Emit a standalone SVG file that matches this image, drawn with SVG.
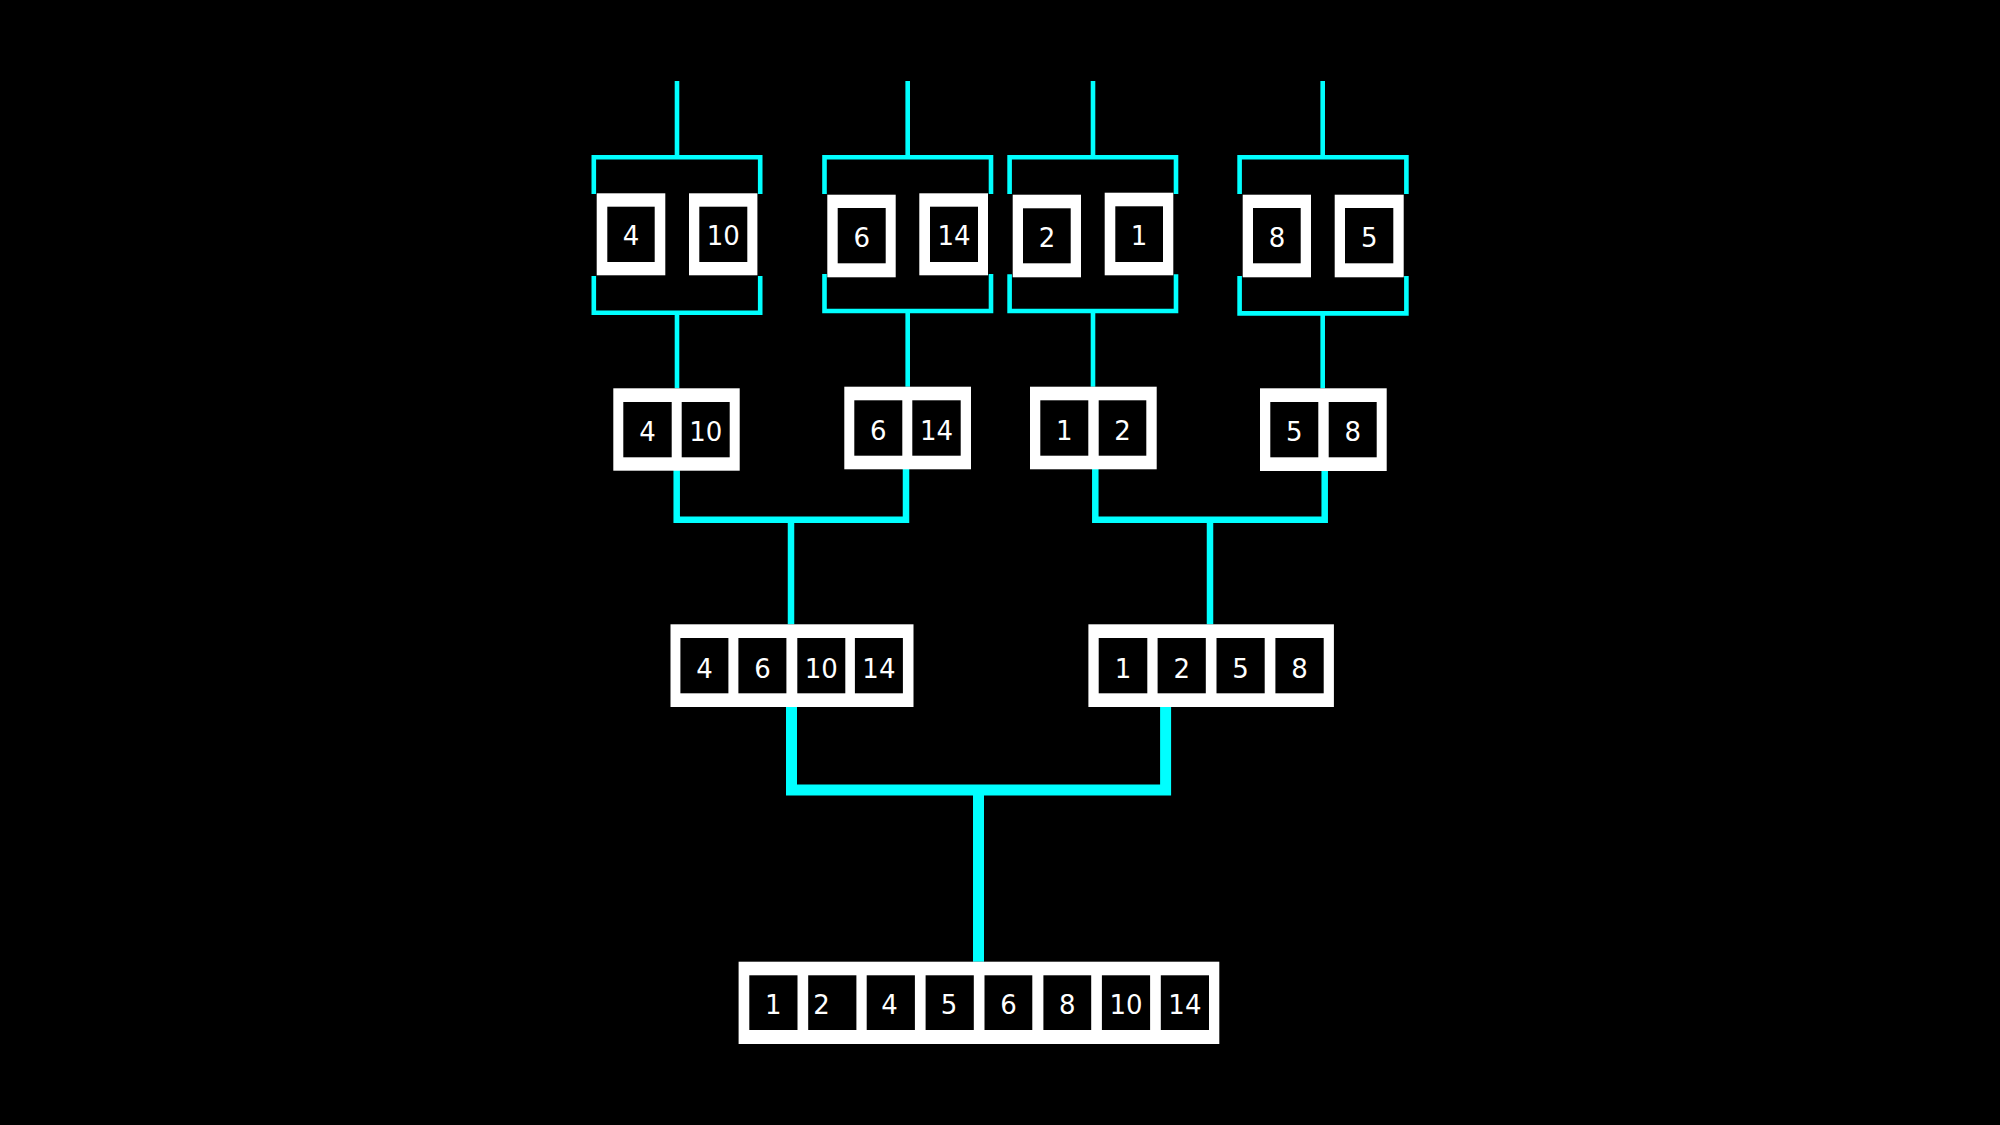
<svg xmlns="http://www.w3.org/2000/svg" width="2000" height="1125" viewBox="0 0 2000 1125">
<style>
.bg{fill:#000}
.w{fill:#fff}
.b{fill:#000}
.c{stroke:#00ffff;fill:none;stroke-linejoin:miter}
.c1{stroke-width:4.6}
.c2{stroke-width:6.5}
.c3{stroke-width:11}
.t{font-family:"DejaVu Sans",Verdana,sans-serif;font-size:26px;fill:#fff;text-anchor:middle}
</style>
<rect class="bg" x="0" y="0" width="2000" height="1125"/>
<g id="connectors">
  <!-- top inputs -->
  <path class="c c1" d="M677,81V157.2M907.7,81V157.2M1093,81V157.2M1322.7,81V157.2"/>
  <!-- top brackets -->
  <path class="c c1" d="M593.8,194V157.2H760.2V194"/>
  <path class="c c1" d="M824.5,194V157.2H991V194"/>
  <path class="c c1" d="M1009.6,194V157.2H1176V194"/>
  <path class="c c1" d="M1239.6,194V157.2H1406.4V194"/>
  <!-- bottom brackets -->
  <path class="c c1" d="M593.8,276V312.7H760.2V276"/>
  <path class="c c1" d="M824.5,274V311H991V274"/>
  <path class="c c1" d="M1009.6,274.3V311H1176V274.3"/>
  <path class="c c1" d="M1239.6,276V313.4H1406.4V276"/>
  <!-- to level 2 -->
  <path class="c c1" d="M677,312.7V388.3M907.7,311V386.7M1093,311V386.7M1322.7,313.4V388.3"/>
  <!-- level 2 merges -->
  <path class="c c2" d="M676.7,470V519.7H906V469"/>
  <path class="c c2" d="M791,519.7V624.3"/>
  <path class="c c2" d="M1095.3,469V519.7H1324.7V471"/>
  <path class="c c2" d="M1210,519.7V624.3"/>
  <!-- level 3 merge -->
  <path class="c c3" d="M791.5,707V790H1165.6V707"/>
  <path class="c c3" d="M978.5,790V961.7"/>
</g>
<g id="in-4">
  <rect class="w" x="596.7" y="193.3" width="68.6" height="82"/>
  <rect class="b" x="607.3" y="206.7" width="47.4" height="55.3"/>
  <text class="t" x="631" y="245">4</text>
</g>
<g id="in-10">
  <rect class="w" x="689" y="193.3" width="68.4" height="82"/>
  <rect class="b" x="699.3" y="206.7" width="48" height="55.3"/>
  <text class="t" x="723.3" y="245">10</text>
</g>
<g id="in-6">
  <rect class="w" x="827.3" y="194.7" width="68.4" height="82.6"/>
  <rect class="b" x="837.7" y="208" width="48" height="55.3"/>
  <text class="t" x="861.7" y="246.5">6</text>
</g>
<g id="in-14">
  <rect class="w" x="919.3" y="193.3" width="68.7" height="82"/>
  <rect class="b" x="930" y="206.7" width="48" height="55.3"/>
  <text class="t" x="954" y="245">14</text>
</g>
<g id="in-2">
  <rect class="w" x="1012.7" y="194.7" width="68.3" height="82.6"/>
  <rect class="b" x="1023" y="208.3" width="47.7" height="55"/>
  <text class="t" x="1047" y="246.5">2</text>
</g>
<g id="in-1">
  <rect class="w" x="1104.7" y="192.7" width="68.6" height="82.6"/>
  <rect class="b" x="1115.3" y="206.3" width="47.7" height="55.7"/>
  <text class="t" x="1139" y="244.5">1</text>
</g>
<g id="in-8">
  <rect class="w" x="1242.7" y="194.7" width="68.3" height="82.6"/>
  <rect class="b" x="1253" y="208" width="47.7" height="55.3"/>
  <text class="t" x="1277" y="246.5">8</text>
</g>
<g id="in-5">
  <rect class="w" x="1334.7" y="194.7" width="69" height="82.6"/>
  <rect class="b" x="1345" y="208" width="48.3" height="55.3"/>
  <text class="t" x="1369.2" y="246.5">5</text>
</g>
<g id="pair-4-10">
  <rect class="w" x="613.3" y="388.3" width="126.4" height="82.4"/>
  <rect class="b" x="623.3" y="402" width="48.4" height="55.3"/>
  <rect class="b" x="681.7" y="402" width="48" height="55.3"/>
  <text class="t" x="647.5" y="441">4</text>
  <text class="t" x="705.7" y="441">10</text>
</g>
<g id="pair-6-14">
  <rect class="w" x="844.3" y="386.7" width="126.7" height="82.6"/>
  <rect class="b" x="854.3" y="400.3" width="48" height="55.4"/>
  <rect class="b" x="912.3" y="400.3" width="48.4" height="55.4"/>
  <text class="t" x="878.3" y="439.5">6</text>
  <text class="t" x="936.5" y="439.5">14</text>
</g>
<g id="pair-1-2">
  <rect class="w" x="1030" y="386.7" width="126.7" height="82.6"/>
  <rect class="b" x="1040.3" y="400.3" width="48" height="55.4"/>
  <rect class="b" x="1098.7" y="400.3" width="47.6" height="55.4"/>
  <text class="t" x="1064.3" y="439.5">1</text>
  <text class="t" x="1122.5" y="439.5">2</text>
</g>
<g id="pair-5-8">
  <rect class="w" x="1260" y="388.3" width="126.7" height="82.7"/>
  <rect class="b" x="1270.3" y="402" width="48" height="55.3"/>
  <rect class="b" x="1328.7" y="402" width="48" height="55.3"/>
  <text class="t" x="1294.3" y="441">5</text>
  <text class="t" x="1352.7" y="441">8</text>
</g>
<g id="quad-4-6-10-14">
  <rect class="w" x="670.5" y="624.3" width="243" height="82.7"/>
  <rect class="b" x="680.4" y="638" width="48" height="55.3"/>
  <rect class="b" x="738.4" y="638" width="48" height="55.3"/>
  <rect class="b" x="797.3" y="638" width="48" height="55.3"/>
  <rect class="b" x="854.9" y="638" width="48" height="55.3"/>
  <text class="t" x="704.4" y="677.5">4</text>
  <text class="t" x="762.4" y="677.5">6</text>
  <text class="t" x="821.3" y="677.5">10</text>
  <text class="t" x="878.9" y="677.5">14</text>
</g>
<g id="quad-1-2-5-8">
  <rect class="w" x="1088.4" y="624.3" width="245.5" height="82.7"/>
  <rect class="b" x="1098.7" y="638" width="48.6" height="55.3"/>
  <rect class="b" x="1157.6" y="638" width="48.2" height="55.3"/>
  <rect class="b" x="1216.5" y="638" width="48.2" height="55.3"/>
  <rect class="b" x="1275.4" y="638" width="48.3" height="55.3"/>
  <text class="t" x="1123" y="677.5">1</text>
  <text class="t" x="1181.7" y="677.5">2</text>
  <text class="t" x="1240.6" y="677.5">5</text>
  <text class="t" x="1299.5" y="677.5">8</text>
</g>
<g id="sorted">
  <rect class="w" x="738.6" y="961.7" width="480.7" height="82.3"/>
  <rect class="b" x="749.3" y="975.3" width="48.2" height="54.7"/>
  <rect class="b" x="808.2" y="975.3" width="48.2" height="54.7"/>
  <rect class="b" x="866.7" y="975.3" width="48.2" height="54.7"/>
  <rect class="b" x="925.6" y="975.3" width="48.2" height="54.7"/>
  <rect class="b" x="984.5" y="975.3" width="47.8" height="54.7"/>
  <rect class="b" x="1043.4" y="975.3" width="47.8" height="54.7"/>
  <rect class="b" x="1101.9" y="975.3" width="48.2" height="54.7"/>
  <rect class="b" x="1160.8" y="975.3" width="48.2" height="54.7"/>
  <text class="t" x="773.3" y="1014.3">1</text>
  <text class="t" x="821.6" y="1014.3">2</text>
  <text class="t" x="889.5" y="1014.3">4</text>
  <text class="t" x="949" y="1014.3">5</text>
  <text class="t" x="1008.5" y="1014.3">6</text>
  <text class="t" x="1067.2" y="1014.3">8</text>
  <text class="t" x="1126" y="1014.3">10</text>
  <text class="t" x="1184.9" y="1014.3">14</text>
</g>
</svg>
